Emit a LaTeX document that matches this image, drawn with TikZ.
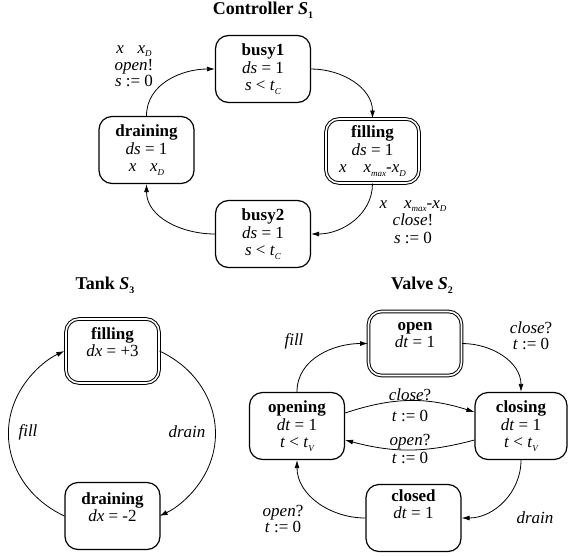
\documentclass[tikz,border=0pt]{standalone}
\usepackage{fontspec}
\setmainfont{Liberation Serif}
\usetikzlibrary{arrows.meta}
% small lowered italic index, e.g. t_C, x_D
\newcommand\lowsub[1]{\raisebox{-0.45ex}{\fontsize{9}{9}\selectfont\itshape #1}}
% small lowered bold index for the headings
\newcommand\boldsub[1]{\raisebox{-0.45ex}{\fontsize{10}{10}\selectfont\bfseries #1}}
\begin{document}
\begin{tikzpicture}[x=1pt,y=1pt,
  stbox/.style={draw, line width=1.2pt, rounded corners=13pt,
    minimum width=95pt, minimum height=67pt, inner sep=0pt, align=center,
    font=\fontsize{17}{17.5}\selectfont},
  initbox/.style={stbox, double, double distance=1.6pt, line width=1pt,
    minimum width=93pt, minimum height=64pt},
  trans/.style={draw, line width=0.8pt, -{Latex[length=8pt,width=5pt]}},
  lbl/.style={align=center, inner sep=0pt, font=\fontsize{17}{16}\selectfont},
  heading/.style={inner sep=0pt, font=\fontsize{18}{18}\selectfont\bfseries}
]
\useasboundingbox (0,0) rectangle (568,-555);

% ---------------- Controller ----------------
\node[heading] (ctitle) at (263,-10) {Controller \textit{S}\boldsub{1}};
\node[stbox] (busy1) at (263,-69)
  {\textbf{busy1}\\\textit{ds} = 1\\\textit{s} < \textit{t}\lowsub{C}};
\node[stbox] (cdrain) at (146.5,-150)
  {\textbf{draining}\\\textit{ds} = 1\\\textit{x}\hspace{0.8em}\textit{x}\lowsub{D}};
\node[initbox] (cfill) at (372.5,-151)
  {\textbf{filling}\\\textit{ds} = 1\\\textit{x}\hspace{1em}\textit{x}\lowsub{max}-\textit{x}\lowsub{D}};
\node[stbox] (busy2) at (263,-234)
  {\textbf{busy2}\\\textit{ds} = 1\\\textit{s} < \textit{t}\lowsub{C}};

\draw[trans] (cdrain.north) to[out=90,in=180] (busy1.west);
\draw[trans] (busy1.east) to[out=0,in=90] (cfill.north);
\draw[trans] (cfill.south) to[out=-90,in=0] (busy2.east);
\draw[trans] (busy2.west) to[out=180,in=-90] (cdrain.south);

\node[lbl] (copen) at (134,-66)
  {\textit{x}\hspace{0.8em}\textit{x}\lowsub{D}\\[1.5pt]\textit{open}!\\\textit{s} := 0};
\node[lbl] (cclose) at (413,-222)
  {\textit{x}\hspace{1em}\textit{x}\lowsub{max}-\textit{x}\lowsub{D}\\[1.5pt]\textit{close}!\\[1.5pt]\textit{s} := 0};

% ---------------- Tank ----------------
\node[heading] (ttitle) at (105,-285) {Tank \textit{S}\boldsub{3}};
\node[initbox] (tfill) at (112.5,-351)
  {\textbf{filling}\\\textit{dx} = +3\\\mbox{}};
\node[stbox] (tdrain) at (112.5,-516)
  {\textbf{draining}\\\textit{dx} = -2\\\mbox{}};

\draw[trans] (tdrain.west) arc[start angle=242.5, end angle=117.5, x radius=104, y radius=93];
\draw[trans] (tfill.east) arc[start angle=62.5, end angle=-62.5, x radius=104, y radius=93];

\node[lbl] (tfilllbl) at (28,-432) {\textit{fill}};
\node[lbl] (tdrainlbl) at (187,-432) {\textit{drain}};

% ---------------- Valve ----------------
\node[heading] (vtitle) at (422,-285) {Valve \textit{S}\boldsub{2}};
\node[initbox] (vopen) at (415,-343.5)
  {\textbf{open}\\\textit{dt} = 1\\\mbox{}};
\node[stbox] (vopening) at (297,-426)
  {\textbf{opening}\\\textit{dt} = 1\\\textit{t} < \textit{t}\lowsub{V}};
\node[stbox, minimum width=92pt] (vclosing) at (521,-426)
  {\textbf{closing}\\\textit{dt} = 1\\\textit{t} < \textit{t}\lowsub{V}};
\node[stbox] (vclosed) at (413.5,-518)
  {\textbf{closed}\\\textit{dt} = 1\\[10pt]\mbox{}};

\draw[trans] (vopening.north) to[out=90,in=180] (vopen.west);
\draw[trans] (vopen.east) to[out=0,in=90] (vclosing.north);
\draw[trans] (vclosing.south) to[out=-90,in=0] (vclosed.east);
\draw[trans] (vclosed.west) to[out=180,in=-90] (vopening.south);
\draw[trans] ([yshift=13pt]vopening.east) to[bend left=18] ([yshift=14pt]vclosing.west);
\draw[trans] ([yshift=-14pt]vclosing.west) to[bend left=15] ([yshift=-14pt]vopening.east);

\node[lbl] (vfill) at (294,-341) {\textit{fill}};
\node[lbl] (vcloseq) at (531,-336) {\textit{close}?\\\textit{t} := 0};
\node[lbl] (vmidclose) at (410,-395) {\textit{close}?};
\node[lbl] (vmidreset1) at (410,-416) {\textit{t} := 0};
\node[lbl] (vmidopen) at (410,-442) {\textit{open}?};
\node[lbl] (vmidreset2) at (410,-458) {\textit{t} := 0};
\node[lbl] (vopenq) at (283,-519) {\textit{open}?\\\textit{t} := 0};
\node[lbl] (vdrain) at (535,-518) {\textit{drain}};
\end{tikzpicture}
\end{document}
